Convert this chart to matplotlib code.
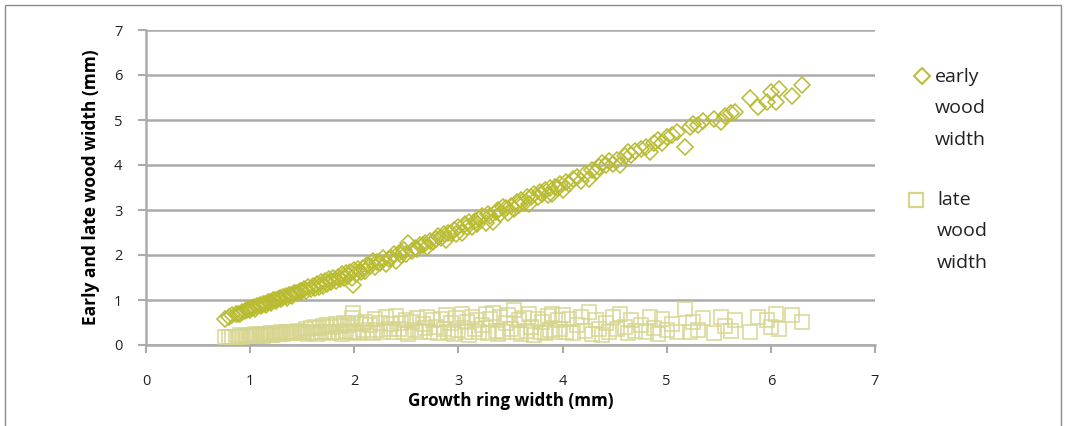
import matplotlib.pyplot as plt
from matplotlib.lines import Line2D
from matplotlib.patches import Rectangle

plt.rcParams['font.family'] = ['Open Sans', 'DejaVu Sans']

# growth ring width (mm) and its early / late wood parts (mm)
ring_width = [
    0.76, 0.80, 0.83, 0.86, 0.88, 0.90, 0.92, 0.95, 0.97, 0.99,
    1.00, 1.02, 1.04, 1.05, 1.07, 1.09, 1.10, 1.12, 1.14, 1.15,
    1.17, 1.19, 1.20, 1.22, 1.24, 1.25, 1.27, 1.29, 1.30, 1.32,
    1.34, 1.35, 1.37, 1.39, 1.40, 1.42, 1.44, 1.46, 1.48, 1.50,
    1.52, 1.54, 1.56, 1.58, 1.60, 1.62, 1.64, 1.66, 1.68, 1.70,
    1.72, 1.74, 1.76, 1.78, 1.80, 1.82, 1.84, 1.86, 1.88, 1.90,
    1.92, 1.94, 1.96, 1.98, 1.99, 2.00, 2.02, 2.04, 2.06, 2.08,
    2.10, 2.12, 2.15, 2.18, 2.20, 2.22, 2.25, 2.28, 2.30, 2.33,
    2.35, 2.38, 2.40, 2.43, 2.45, 2.48, 2.50, 2.52,
    2.55, 2.58, 2.60, 2.63, 2.66, 2.68, 2.70, 2.73, 2.76, 2.78,
    2.80, 2.83, 2.86, 2.88, 2.90, 2.93, 2.96, 2.98, 3.00, 3.03,
    3.06, 3.08, 3.10, 3.13, 3.16, 3.18, 3.20, 3.23, 3.26, 3.28,
    3.30, 3.33, 3.36, 3.38, 3.40, 3.43, 3.46, 3.48, 3.50, 3.53,
    3.56, 3.58, 3.60, 3.63, 3.66, 3.68, 3.70, 3.73, 3.76, 3.78,
    3.80, 3.83, 3.86, 3.88, 3.90, 3.93, 3.96, 3.98, 4.00,
    4.03, 4.06, 4.10, 4.14, 4.18, 4.22, 4.25, 4.28, 4.32, 4.35,
    4.38, 4.42, 4.45, 4.48, 4.52, 4.55, 4.60, 4.63, 4.66, 4.70,
    4.75, 4.80, 4.84, 4.88, 4.92, 4.95, 5.00,
    5.05, 5.10, 5.18, 5.22, 5.25, 5.30, 5.35, 5.45, 5.52, 5.56,
    5.62, 5.66, 5.80, 5.88, 5.96, 6.00, 6.05, 6.08, 6.20, 6.30,
]
early_width = [
    0.58, 0.62, 0.66, 0.68, 0.70, 0.68, 0.74, 0.76, 0.78, 0.80,
    0.78, 0.83, 0.84, 0.80, 0.86, 0.88, 0.86, 0.91, 0.92, 0.90,
    0.95, 0.96, 0.94, 0.99, 1.00, 0.98, 1.03, 1.04, 1.02, 1.07,
    1.08, 1.05, 1.11, 1.12, 1.10, 1.15, 1.16, 1.15, 1.20, 1.20,
    1.24, 1.20, 1.30, 1.24, 1.32, 1.26, 1.36, 1.30, 1.39, 1.32,
    1.42, 1.36, 1.46, 1.40, 1.49, 1.42, 1.52, 1.47, 1.58, 1.48,
    1.60, 1.54, 1.62, 1.48, 1.33, 1.66, 1.58, 1.70, 1.62, 1.72,
    1.64, 1.78, 1.76, 1.86, 1.74, 1.84, 1.82, 1.94, 1.80, 1.92,
    1.94, 2.02, 1.86, 2.04, 2.00, 2.12, 2.02, 2.27,
    2.10, 2.16, 2.14, 2.22, 2.22, 2.26, 2.18, 2.32, 2.30, 2.36,
    2.42, 2.38, 2.46, 2.34, 2.50, 2.48, 2.56, 2.46, 2.62, 2.48,
    2.68, 2.62, 2.74, 2.62, 2.76, 2.70, 2.80, 2.86, 2.72, 2.92,
    2.86, 2.74, 2.96, 3.00, 2.92, 3.06, 3.04, 2.94, 3.08, 3.02,
    3.18, 3.12, 3.22, 3.16, 3.28, 3.14, 3.30, 3.36, 3.30, 3.40,
    3.36, 3.44, 3.34, 3.50, 3.36, 3.52, 3.48, 3.58, 3.44,
    3.62, 3.58, 3.68, 3.74, 3.64, 3.80, 3.70, 3.88, 3.84, 3.96,
    4.04, 4.00, 4.10, 4.02, 4.12, 4.00, 4.20, 4.28, 4.22, 4.32,
    4.36, 4.40, 4.30, 4.48, 4.56, 4.50, 4.62,
    4.66, 4.74, 4.40, 4.84, 4.90, 4.88, 4.98, 5.02, 4.96, 5.10,
    5.16, 5.18, 5.50, 5.30, 5.40, 5.62, 5.40, 5.68, 5.54, 5.78,
]
late_width = [
    0.18, 0.18, 0.17, 0.18, 0.18, 0.22, 0.18, 0.19, 0.19, 0.19,
    0.22, 0.19, 0.20, 0.25, 0.21, 0.21, 0.24, 0.21, 0.22, 0.25,
    0.22, 0.23, 0.26, 0.23, 0.24, 0.27, 0.24, 0.25, 0.28, 0.25,
    0.26, 0.30, 0.26, 0.27, 0.30, 0.27, 0.28, 0.31, 0.28, 0.30,
    0.26, 0.36, 0.24, 0.38, 0.28, 0.40, 0.25, 0.37, 0.30, 0.42,
    0.28, 0.44, 0.26, 0.40, 0.30, 0.46, 0.28, 0.42, 0.25, 0.48,
    0.32, 0.44, 0.28, 0.60, 0.72, 0.30, 0.50, 0.26, 0.46, 0.34,
    0.52, 0.30, 0.44, 0.26, 0.58, 0.34, 0.48, 0.28, 0.62, 0.36,
    0.46, 0.30, 0.64, 0.36, 0.50, 0.28, 0.56, 0.25,
    0.52, 0.34, 0.60, 0.28, 0.47, 0.38, 0.62, 0.30, 0.55, 0.40,
    0.26, 0.58, 0.36, 0.66, 0.30, 0.50, 0.24, 0.60, 0.34, 0.70,
    0.28, 0.52, 0.22, 0.63, 0.35, 0.56, 0.30, 0.45, 0.68, 0.26,
    0.58, 0.72, 0.32, 0.24, 0.62, 0.30, 0.50, 0.66, 0.36, 0.78,
    0.28, 0.55, 0.24, 0.60, 0.32, 0.68, 0.40, 0.22, 0.58, 0.30,
    0.52, 0.26, 0.64, 0.34, 0.70, 0.28, 0.56, 0.36, 0.66,
    0.30, 0.58, 0.26, 0.44, 0.62, 0.32, 0.74, 0.24, 0.55, 0.36,
    0.22, 0.48, 0.30, 0.62, 0.36, 0.68, 0.40, 0.26, 0.56, 0.32,
    0.44, 0.28, 0.62, 0.38, 0.24, 0.58, 0.34,
    0.46, 0.30, 0.80, 0.28, 0.52, 0.34, 0.60, 0.26, 0.62, 0.42,
    0.32, 0.55, 0.30, 0.62, 0.56, 0.40, 0.70, 0.36, 0.66, 0.52,
]

early_color = '#B9BC30'
late_color = '#D6D58E'
grid_color = '#ABABAB'

fig = plt.figure(figsize=(10.65, 4.26), dpi=100)
ax = fig.add_axes([146 / 1065, 81 / 426, 729 / 1065, 315 / 426])

ax.plot(ring_width, late_width, linestyle='none', marker='s', markersize=10.5,
        markerfacecolor='none', markeredgecolor=late_color, markeredgewidth=1.3,
        alpha=0.8, zorder=3)
ax.plot(ring_width, early_width, linestyle='none', marker='D', markersize=8.3,
        markerfacecolor='none', markeredgecolor=early_color, markeredgewidth=1.1,
        zorder=4)

ax.set_xlim(0, 7)
ax.set_ylim(0, 7)
ax.set_xticks(range(0, 8))
ax.set_yticks(range(0, 8))
ax.yaxis.grid(True, color=grid_color, linewidth=1.8)
ax.set_axisbelow(True)
for side in ['top', 'right']:
    ax.spines[side].set_visible(False)
for side in ['left', 'bottom']:
    ax.spines[side].set_color(grid_color)
    ax.spines[side].set_linewidth(1.8)
ax.tick_params(axis='x', direction='out', length=6, width=1.5, color=grid_color,
               pad=15, labelsize=10.5, labelcolor='#222222')
ax.tick_params(axis='y', direction='out', length=6, width=1.5, color=grid_color,
               pad=11, labelsize=10.5, labelcolor='#222222')

ax.set_xlabel('Growth ring width (mm)', fontsize=12.3, fontweight='bold', labelpad=2)
ax.set_ylabel('Early and late wood width (mm)', fontsize=12.5, fontweight='bold', labelpad=10)

# legend on the right, drawn by hand so the marker sits on the first line
fig.add_artist(Line2D([922 / 1065], [1 - 76 / 426], transform=fig.transFigure,
                      marker='D', markersize=8, markerfacecolor='none',
                      markeredgecolor=early_color, markeredgewidth=1.4))
fig.text(935 / 1065, 1 - 68 / 426, 'early\nwood\nwidth', va='top', ha='left',
         fontsize=14, linespacing=1.95, color='#222222')
fig.add_artist(Line2D([916 / 1065], [1 - 200 / 426], transform=fig.transFigure,
                      marker='s', markersize=10.5, markerfacecolor='none',
                      markeredgecolor=late_color, markeredgewidth=1.6))
fig.text(937 / 1065, 1 - 191 / 426, 'late\nwood\nwidth', va='top', ha='left',
         fontsize=14, linespacing=1.95, color='#222222')

# outer chart frame
fig.add_artist(Rectangle((5 / 1065, -0.05), 1056 / 1065, 1.05 - 5 / 426,
                         transform=fig.transFigure, fill=False,
                         edgecolor='#8C8C8C', linewidth=1))

fig.savefig('out.png', dpi=100)
